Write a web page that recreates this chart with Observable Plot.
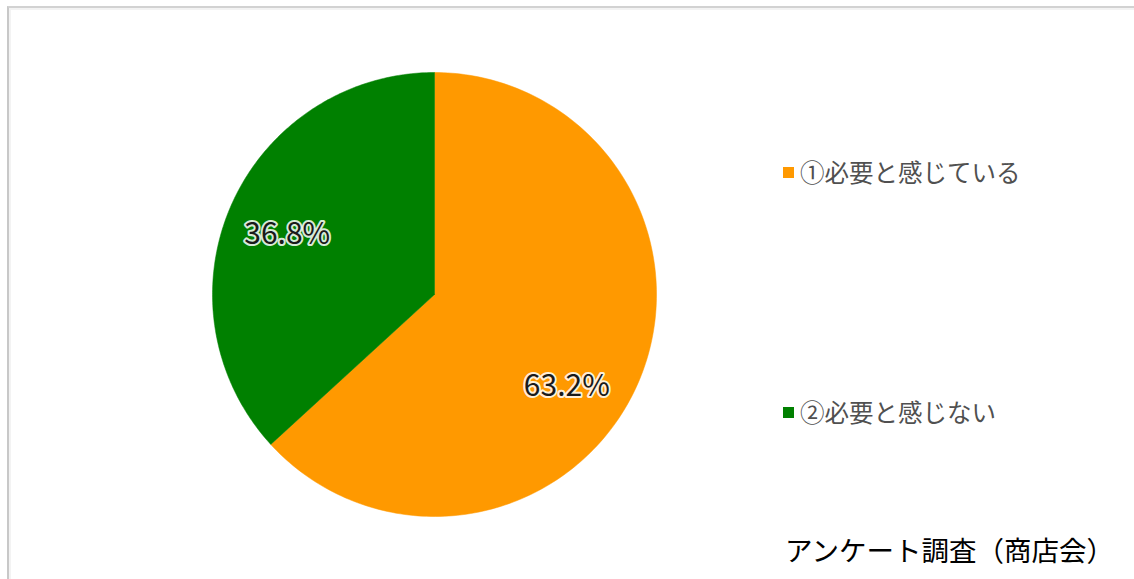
<!DOCTYPE html>
<html><head><meta charset="utf-8">
<script src="https://cdn.jsdelivr.net/npm/d3@7"></script>
<script src="https://cdn.jsdelivr.net/npm/@observablehq/plot@0.6"></script>
<style>
body{margin:0;background:#fff;font-family:"Noto Sans CJK JP",sans-serif;}
#wrap{position:relative;width:1134px;height:579px;overflow:hidden;}
#frame{position:absolute;left:7px;top:6px;width:1130px;height:580px;border-top:2px solid #d2d2d2;border-left:2px solid #c8c8c8;border-right:1px solid #e6e6e6;box-shadow:inset 2px 2px 0 #f3f3f3;}
#chart{position:absolute;left:0;top:0;}
.leg{position:absolute;left:783px;font-size:24.5px;color:#505050;line-height:1;display:flex;align-items:center;white-space:nowrap;}
.leg span.sw{display:inline-block;width:11px;height:11px;margin-right:6px;}
#caption{position:absolute;right:20px;top:536px;font-size:27.5px;color:#000;line-height:1;white-space:nowrap;}
</style></head>
<body>
<div id="wrap">
<div id="frame"></div>
<div id="chart"></div>
<div id="legend"></div>
<div id="caption"></div>
</div>
<script>
const categories = ["①必要と感じている", "②必要と感じない"];
const values = [63.2, 36.8];
const colors = ["#FF9900", "#008000"];
const labels = ["63.2%", "36.8%"];
const captionText = "アンケート調査（商店会）";

const pie = d3.pie().sort(null).value(d => d)(values);
const poly = [];
pie.forEach((s, i) => {
  poly.push({cat: categories[i], x: 0, y: 0});
  const n = 200;
  for (let k = 0; k <= n; k++) {
    const a = s.startAngle + (s.endAngle - s.startAngle) * k / n;
    poly.push({cat: categories[i], x: Math.sin(a), y: Math.cos(a)});
  }
  poly.push({cat: categories[i], x: 0, y: 0});
});
const lab = pie.map((s, i) => {
  const a = (s.startAngle + s.endAngle) / 2;
  return {text: labels[i], x: 0.72 * Math.sin(a), y: 0.72 * Math.cos(a)};
});
const labelStyle = {x: "x", y: "y", text: "text", fontSize: 30, fill: "#1a1a1a", stroke: "white", strokeWidth: 4, strokeOpacity: 0.85, fontFamily: "Noto Sans CJK JP"};

const plot = Plot.plot({
  width: 1134, height: 579, margin: 0,
  x: {domain: [-1, 1], range: [212, 656], axis: null},
  y: {domain: [-1, 1], range: [516, 72], axis: null},
  color: {domain: categories, range: colors},
  style: {background: "transparent", overflow: "visible"},
  marks: [
    Plot.line(poly, {x: "x", y: "y", z: "cat", fill: "cat", stroke: "cat", strokeWidth: 0.5, curve: "linear"}),
    Plot.text([lab[0]], {...labelStyle, dx: -14, dy: 27}),
    Plot.text([lab[1]], {...labelStyle, dx: -1, dy: 4})
  ]
});
document.getElementById("chart").appendChild(plot);

const legend = document.getElementById("legend");
const legTops = [160, 400];
categories.forEach((c, i) => {
  const d = document.createElement("div");
  d.className = "leg";
  d.style.top = legTops[i] + "px";
  d.innerHTML = `<span class="sw" style="background:${colors[i]}"></span><span>${c}</span>`;
  legend.appendChild(d);
});
document.getElementById("caption").textContent = captionText;
</script>
</body></html>
